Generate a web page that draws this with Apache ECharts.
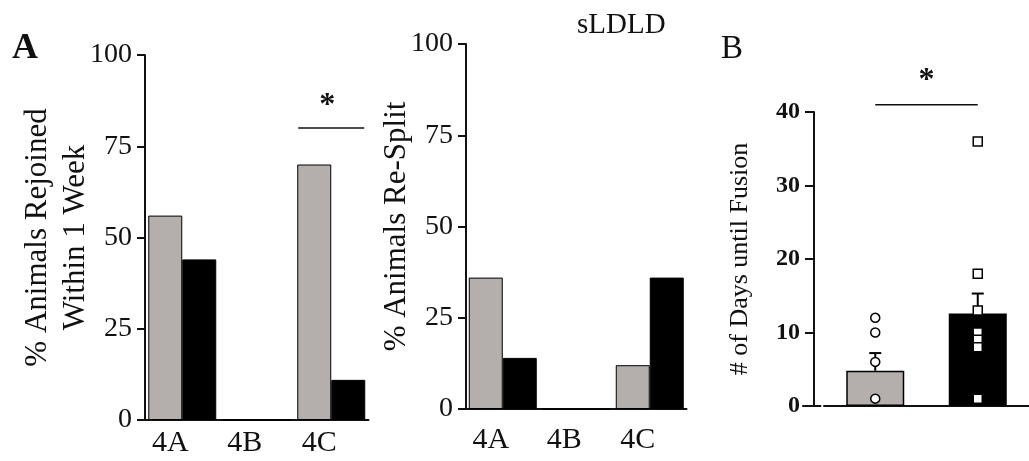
<!DOCTYPE html>
<html>
<head>
<meta charset="utf-8">
<script src="https://cdn.jsdelivr.net/npm/echarts@6/dist/echarts.min.js"></script>
<style>
  html, body { margin: 0; padding: 0; background: #fff; }
  #main { width: 1029px; height: 461px; }
</style>
</head>
<body>
<div id="main"></div>
<script>
// panel A data (% of animals)
var categories = ['4A', '4B', '4C'];
var rejoinedGray = [56, 0, 70];
var rejoinedBlack = [44, 0, 11];
var resplitGray = [36, 0, 12];
var resplitBlack = [14, 0, 36];
var percentTicks = [0, 25, 50, 75, 100];

// panel B data (days until fusion)
var groupsB = ['Group 1', 'Group 2'];
var fusionMean = [4.8, 12.6];
var fusionSem = [2.4, 2.7];
var fusionPointsGray = [12, 10, 6, 1];
var fusionPointsBlack = [36, 18, 13, 10, 9, 8, 1];
var dayTicks = [0, 10, 20, 30, 40];

var GRAY = '#b4aeac';
var INK = '#111';
var SERIF = '"Liberation Serif", "DejaVu Serif", serif';

var chart = echarts.init(document.getElementById('main'));

function percentAxis(idx, name) {
  return {
    type: 'value', gridIndex: idx, min: 0, max: 100, interval: 25,
    name: name, nameLocation: 'middle', nameRotate: 90,
    nameGap: 50, nameMoveOverlap: false,
    nameTextStyle: { fontFamily: SERIF, fontSize: 31, color: INK, lineHeight: 38 },
    axisLine: { show: true, lineStyle: { color: INK, width: 2 } },
    axisTick: { show: true, length: 8, lineStyle: { color: INK, width: 2 } },
    axisLabel: { fontFamily: SERIF, fontSize: 28, color: INK, margin: 13 },
    splitLine: { show: false }
  };
}

function catAxis(idx, margin) {
  return {
    type: 'category', gridIndex: idx, data: categories,
    axisLine: { show: true, lineStyle: { color: INK, width: 2 } },
    axisTick: { show: false },
    axisLabel: { fontFamily: SERIF, fontSize: 30, color: INK, margin: margin, padding: [0, 24, 0, 0] }
  };
}

function bar(idx, data, color) {
  return {
    type: 'bar', xAxisIndex: idx, yAxisIndex: idx, data: data,
    barWidth: 34, barGap: '0%',
    itemStyle: { color: color, borderColor: '#000', borderWidth: 1 }
  };
}

function points(values, catIdx, symbol, size) {
  return {
    type: 'scatter', xAxisIndex: 2, yAxisIndex: 2, z: 5,
    symbol: symbol, symbolSize: size,
    itemStyle: { color: '#fff', borderColor: '#000', borderWidth: 1.5, opacity: 1 },
    data: values.map(function (v) { return [catIdx, v]; })
  };
}

chart.setOption({
  animation: false,
  title: {
    text: 'sLDLD', left: 572, top: 6,
    textStyle: { fontFamily: SERIF, fontSize: 29, fontWeight: 'normal', color: INK }
  },
  grid: [
    { left: 145, top: 55, width: 223.5, height: 365 },
    { left: 466, top: 44, width: 220.5, height: 365 },
    { left: 824, top: 112, width: 216, height: 294 }
  ],
  xAxis: [
    catAxis(0, 8),
    catAxis(1, 16),
    {
      type: 'category', gridIndex: 2, data: groupsB,
      axisLine: { show: true, lineStyle: { color: INK, width: 2 } },
      axisTick: { show: false }, axisLabel: { show: false }
    }
  ],
  yAxis: [
    percentAxis(0, '% Animals Rejoined\nWithin 1 Week'),
    percentAxis(1, '% Animals Re-Split'),
    {
      type: 'value', gridIndex: 2, min: 0, max: 40, interval: 10, offset: 10,
      name: '# of Days until Fusion', nameLocation: 'middle', nameRotate: 90,
      nameGap: 61, nameMoveOverlap: false,
      nameTextStyle: { fontFamily: SERIF, fontSize: 26, color: INK },
      axisLine: { show: true, lineStyle: { color: INK, width: 2 } },
      axisTick: { show: true, length: 9, lineStyle: { color: INK, width: 2 } },
      axisLabel: { fontFamily: SERIF, fontSize: 24, fontWeight: 'bold', color: INK, margin: 14 },
      splitLine: { show: false }
    }
  ],
  series: [
    bar(0, rejoinedGray, GRAY),
    bar(0, rejoinedBlack, '#000'),
    bar(1, resplitGray, GRAY),
    bar(1, resplitBlack, '#000'),
    {
      type: 'bar', xAxisIndex: 2, yAxisIndex: 2, barWidth: 58,
      data: fusionMean.map(function (v, i) {
        return { value: v, itemStyle: { color: i === 0 ? GRAY : '#000' } };
      }),
      itemStyle: { borderColor: '#000', borderWidth: 1.5 }
    },
    {
      type: 'custom', xAxisIndex: 2, yAxisIndex: 2, z: 4,
      data: fusionMean.map(function (v, i) { return [i, v, fusionSem[i]]; }),
      encode: { x: 0, y: 1 },
      renderItem: function (params, api) {
        var base = api.coord([api.value(0), api.value(1)]);
        var top = api.coord([api.value(0), api.value(1) + api.value(2)]);
        var st = { stroke: '#000', lineWidth: 2 };
        return {
          type: 'group',
          children: [
            { type: 'line', shape: { x1: base[0], y1: base[1], x2: top[0], y2: top[1] }, style: st },
            { type: 'line', shape: { x1: top[0] - 6, y1: top[1], x2: top[0] + 6, y2: top[1] }, style: st }
          ]
        };
      }
    },
    points(fusionPointsGray, 0, 'circle', 9),
    points(fusionPointsBlack, 1, 'rect', 9)
  ]
});

// significance annotations
var sigA = { cat: 2, value: 80, halfWidth: 33 };
var sigB = { value: 41 };

var a = chart.convertToPixel({ xAxisIndex: 0, yAxisIndex: 0 }, [sigA.cat, sigA.value]);
var b0 = chart.convertToPixel({ xAxisIndex: 2, yAxisIndex: 2 }, [0, sigB.value]);
var b1 = chart.convertToPixel({ xAxisIndex: 2, yAxisIndex: 2 }, [1, sigB.value]);
var xAxisB = chart.convertToPixel({ xAxisIndex: 2, yAxisIndex: 2 }, [0, 0]);

chart.setOption({
  graphic: [
    { type: 'text', left: 12, top: 31, style: { text: 'A', font: 'bold 36px ' + SERIF, fill: INK } },
    { type: 'text', left: 721, top: 33, style: { text: 'B', font: '33px ' + SERIF, fill: INK } },
    { type: 'line', shape: { x1: a[0] - sigA.halfWidth, y1: a[1], x2: a[0] + sigA.halfWidth, y2: a[1] },
      style: { stroke: INK, lineWidth: 1.5 } },
    { type: 'text', x: a[0] - 4, y: a[1] - 6,
      style: { text: '*', font: 'bold 32px ' + SERIF, fill: INK, textAlign: 'center', textVerticalAlign: 'bottom' } },
    { type: 'line', shape: { x1: b0[0], y1: b0[1], x2: b1[0], y2: b1[1] },
      style: { stroke: INK, lineWidth: 1.5 } },
    { type: 'text', x: (b0[0] + b1[0]) / 2, y: b0[1] - 8,
      style: { text: '*', font: 'bold 32px ' + SERIF, fill: INK, textAlign: 'center', textVerticalAlign: 'bottom' } },
    { type: 'line', shape: { x1: xAxisB[0] - 73, y1: xAxisB[1], x2: xAxisB[0] - 54, y2: xAxisB[1] },
      style: { stroke: INK, lineWidth: 2 } }
  ]
});
</script>
</body>
</html>
